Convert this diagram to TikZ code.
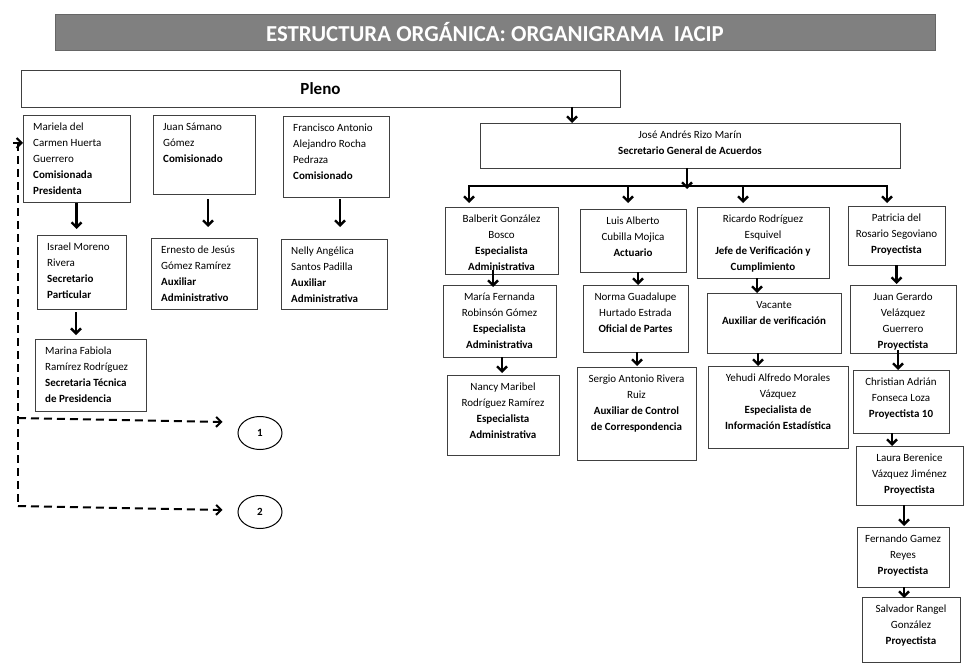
\documentclass[tikz,border=0pt]{standalone}
\usepackage{fontspec}
\setmainfont{Carlito}
\usetikzlibrary{arrows.meta,shapes.geometric}
\tikzset{
  obx/.style={draw=black!75, line width=0.8pt, inner sep=0pt, outer sep=0pt},
  otxt/.style={inner sep=0pt, font=\fontsize{11}{16}\selectfont},
  arr/.style={line width=2.4pt, -{Straight Barb[length=5pt,width=10pt]}},
  dsh/.style={line width=2pt, dash pattern=on 8pt off 5pt},
  dsharr/.style={line width=2pt, dash pattern=on 8pt off 5pt, -{Straight Barb[length=5pt,width=10pt]}},
  circ/.style={ellipse, draw, line width=1pt, minimum width=44pt, minimum height=33pt, inner sep=0pt, font=\fontsize{11}{13}\selectfont\bfseries},
}
\newcommand\obox[7]{%
  \node[obx, anchor=north west, minimum width={(#4-#2)*1pt}, minimum height={(#5-#3)*1pt}] (#1) at (#2,#3) {};
  \ifx l#6
    \node[otxt, align=left, anchor=north west] (#1-t) at ([xshift=10pt,yshift=-4.5pt]#1.north west) {\strut #7};
  \else
    \node[otxt, align=center, anchor=north] (#1-t) at ([yshift=-4.5pt]#1.north) {\strut #7};
  \fi}
\begin{document}
\begin{tikzpicture}[x=1pt,y=-1pt]
\useasboundingbox (0,0) rectangle (967,666);

% title
\node[fill=black!50, draw=black!60, line width=0.6pt, minimum width=880pt, minimum height=36pt, inner sep=0pt,
      text=white, font=\fontsize{22.8}{26}\selectfont\bfseries] (title) at (495,32) {ESTRUCTURA ORGÁNICA: ORGANIGRAMA\ \ IACIP};

% Pleno
\node[obx, anchor=north west, minimum width=599pt, minimum height=37pt, font=\fontsize{17}{20}\selectfont\bfseries] (pleno) at (21,70) {Pleno};

% left side
\obox{mariela}{23}{115}{130}{202}{l}{Mariela del\\Carmen Huerta\\Guerrero\\\textbf{Comisionada}\\\textbf{Presidenta}}
\obox{juan}{153}{115}{255}{194}{l}{Juan Sámano\\Gómez\\\textbf{Comisionado}}
\obox{francisco}{283}{116}{389}{197}{l}{Francisco Antonio\\Alejandro Rocha\\Pedraza\\\textbf{Comisionado}}
\obox{israel}{37}{235}{126}{309}{l}{Israel Moreno\\Rivera\\\textbf{Secretario}\\\textbf{Particular}}
\obox{ernesto}{151}{238}{257}{309}{l}{Ernesto de Jesús\\Gómez Ramírez\\\textbf{Auxiliar}\\\textbf{Administrativo}}
\obox{nelly}{281}{239}{387}{309}{l}{Nelly Angélica\\Santos Padilla\\\textbf{Auxiliar}\\\textbf{Administrativa}}
\obox{marina}{35}{339}{146}{411}{l}{Marina Fabiola\\Ramírez Rodríguez\\\textbf{Secretaria Técnica}\\\textbf{de Presidencia}}

\node[circ] (c1) at (260,433) {1};
\node[circ] (c2) at (260,512) {2};

\draw[arr, shorten <=1pt, shorten >=6pt] (mariela.south) -- (mariela.south |- israel.north);
\draw[arr, shorten <=5pt, shorten >=11pt] ([xshift=4pt]juan.south) -- ([xshift=4pt]juan.south |- ernesto.north);
\draw[arr, shorten <=2pt, shorten >=12pt] ([xshift=4pt]francisco.south) -- ([xshift=4pt]francisco.south |- nelly.north);
\draw[arr, shorten <=3pt, shorten >=4pt] ([xshift=-5.5pt]israel.south) -- ([xshift=-5.5pt]israel.south |- marina.north);

% dashed links
\coordinate (dtop) at (18,143);
\coordinate (d1) at (18,418);
\coordinate (d2) at (18,506);
\draw[dsh] (dtop) -- (d2);
\draw[dsharr] ([xshift=-5pt]dtop) -- (mariela.west |- dtop);
\draw[dsharr] (d1) -- ([xshift=-15pt,yshift=11pt]c1.west);
\draw[dsharr] (d2) -- ([xshift=-15pt,yshift=2pt]c2.west);

% right side
\obox{jar}{480}{123}{900}{168}{c}{José Andrés Rizo Marín\\\textbf{Secretario General de Acuerdos}}
\obox{balberit}{445}{207}{558}{274}{c}{Balberit González\\Bosco\\\textbf{Especialista}\\\textbf{Administrativa}}
\obox{luis}{580}{209}{686}{272}{c}{Luis Alberto\\Cubilla Mojica\\\textbf{Actuario}}
\obox{ricardo}{697}{207}{829}{278}{c}{Ricardo Rodríguez\\Esquivel\\\textbf{Jefe de Verificación y}\\\textbf{Cumplimiento}}
\obox{patricia}{848}{206}{945}{265}{c}{Patricia del\\Rosario Segoviano\\\textbf{Proyectista}}
\obox{maria}{443}{285}{556}{357}{c}{María Fernanda\\Robinsón Gómez\\\textbf{Especialista}\\\textbf{Administrativa}}
\obox{nancy}{447}{375}{559}{455}{c}{Nancy Maribel\\Rodríguez Ramírez\\\textbf{Especialista}\\\textbf{Administrativa}}
\obox{norma}{583}{285}{688}{352}{c}{Norma Guadalupe\\Hurtado Estrada\\\textbf{Oficial de Partes}}
\obox{sergio}{577}{367}{696}{460}{c}{Sergio Antonio Rivera\\Ruiz\\\textbf{Auxiliar de Control}\\\textbf{de Correspondencia}}
\obox{vacante}{707}{293}{841}{353}{c}{Vacante\\\textbf{Auxiliar de verificación}}
\obox{yehudi}{708}{366}{848}{448}{c}{Yehudi Alfredo Morales\\Vázquez\\\textbf{Especialista de}\\\textbf{Información Estadística}}
\obox{juang}{850}{285}{956}{353}{c}{Juan Gerardo\\Velázquez\\Guerrero\\\textbf{Proyectista}}
\obox{christian}{853}{370}{949}{433}{c}{Christian Adrián\\Fonseca Loza\\\textbf{Proyectista 10}}
\obox{laura}{856}{446}{963}{505}{c}{Laura Berenice\\Vázquez Jiménez\\\textbf{Proyectista}}
\obox{fernando}{857}{527}{949}{587}{c}{Fernando Gamez\\Reyes\\\textbf{Proyectista}}
\obox{salvador}{862}{597}{960}{662}{c}{Salvador Rangel\\González\\\textbf{Proyectista}}

% connectors right
\draw[arr] ([xshift=-48pt]pleno.south east) -- ([xshift=-48pt]pleno.south east |- jar.north);
\coordinate (bar) at (687,186);
\coordinate (b1) at (469,186);
\coordinate (b2) at (628,186);
\coordinate (b3) at (743,186);
\coordinate (b4) at (887,186);
\draw[arr, shorten >=-3pt] (jar.south -| bar) -- (bar);
\draw[arr, shorten >=4pt] (bar) -| (b1 |- balberit.north);
\draw[arr, shorten >=6pt] (bar) -| (b2 |- luis.north);
\draw[arr, shorten >=4pt] (bar) -| (b3 |- ricardo.north);
\draw[arr, shorten >=3pt] (bar) -| (b4 |- patricia.north);

\draw[arr, shorten <=-4pt, shorten >=-2pt] ([xshift=-8.5pt]balberit.south) -- ([xshift=-8.5pt]balberit.south |- maria.north);
\draw[arr, shorten >=2pt] ([xshift=2.5pt]maria.south) -- ([xshift=2.5pt]maria.south |- nancy.north);
\draw[arr] ([xshift=5pt]luis.south) -- ([xshift=5pt]luis.south |- norma.north);
\draw[arr, shorten >=1pt] ([xshift=1.5pt]norma.south) -- ([xshift=1.5pt]norma.south |- sergio.north);
\draw[arr] ([xshift=-6pt]ricardo.south) -- ([xshift=-6pt]ricardo.south |- vacante.north);
\draw[arr] ([xshift=-16pt]vacante.south) -- ([xshift=-16pt]vacante.south |- yehudi.north);
\draw[arr, shorten >=1pt] (patricia.south) -- (patricia.south |- juang.north);
\draw[arr, shorten <=-3pt] ([xshift=-5pt]juang.south) -- ([xshift=-5pt]juang.south |- christian.north);
\draw[arr] ([xshift=-9pt]christian.south) -- ([xshift=-9pt]christian.south |- laura.north);
\draw[arr, shorten >=1pt] ([xshift=-5.5pt]laura.south) -- ([xshift=-5.5pt]laura.south |- fernando.north);
\draw[arr, shorten >=-1pt] ([xshift=1pt]fernando.south) -- ([xshift=1pt]fernando.south |- salvador.north);
\end{tikzpicture}
\end{document}
